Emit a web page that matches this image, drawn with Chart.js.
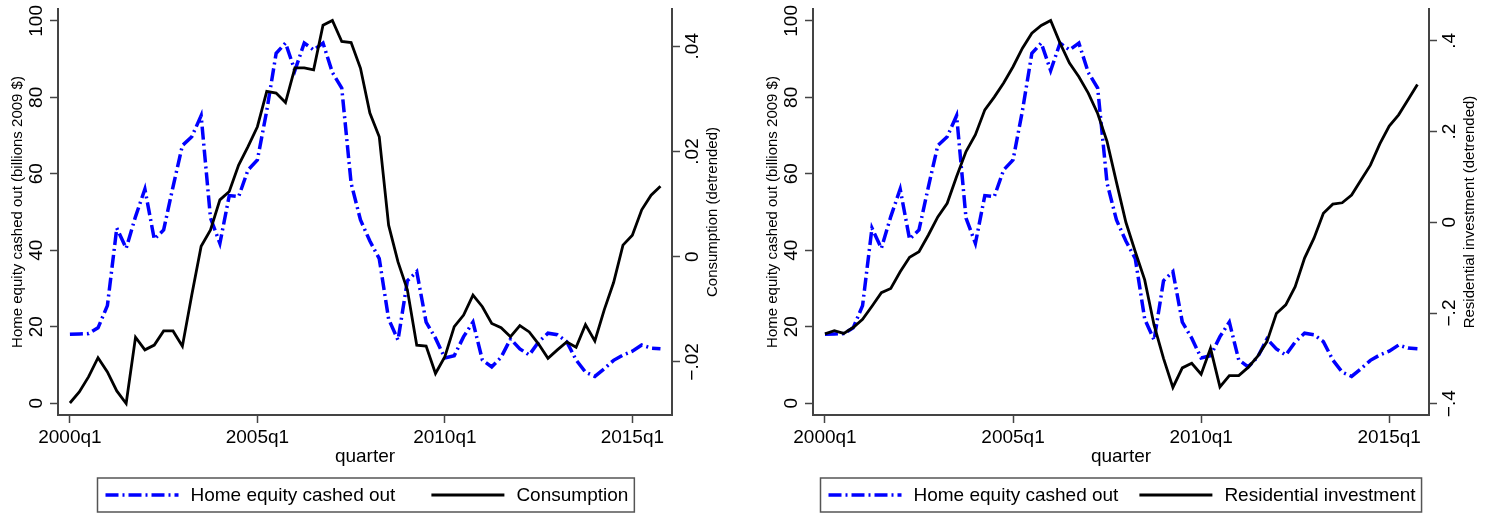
<!DOCTYPE html>
<html><head><meta charset="utf-8">
<script src="https://cdn.jsdelivr.net/npm/chart.js@4.4.1/dist/chart.umd.min.js"></script>
<style>
html,body{margin:0;padding:0;background:#fff;}
#wrap{position:relative;width:1489px;height:514px;overflow:hidden;background:#fff;}
.panel{position:absolute;top:0;height:514px;}
</style></head>
<body><div id="wrap">
<div class="panel" style="left:0;width:745px"><canvas id="c1" width="745" height="514"></canvas></div>
<div class="panel" style="left:745px;width:744px"><canvas id="c2" width="744" height="514"></canvas></div>
</div>
<script>
// ---------- data ----------
const quarters = [];
for (let y = 2000; y <= 2015; y++) for (let q = 1; q <= 4; q++) quarters.push(y + 'q' + q);
const xTickLabels = ['2000q1', '2005q1', '2010q1', '2015q1'];

const equityCashedOut = [
  18.0, 18.1, 18.2, 19.7, 25.5, 45.8, 40.5, 48.8, 56.0, 42.9, 45.3, 56.6,
  67.4, 69.7, 75.2, 48.4, 41.8, 54.3, 54.0, 61.0, 63.6, 76.5, 91.5, 94.2,
  87.0, 94.2, 92.4, 94.2, 86.5, 82.4, 57.5, 47.9, 42.4, 37.8, 22.0, 16.5,
  32.0, 34.4, 21.2, 17.0, 11.8, 12.4, 17.4, 21.2, 11.3, 9.5, 12.0, 16.8,
  14.2, 12.6, 16.0, 18.3, 17.9, 16.1, 11.3, 8.1, 7.0, 9.0, 11.2, 12.6,
  13.6, 15.2, 14.4, 14.2
];
const consumption = [
  -0.0278, -0.0257, -0.0228, -0.0192, -0.0219, -0.0255, -0.0279, -0.0153,
  -0.0177, -0.0168, -0.0141, -0.0141, -0.0170, -0.0073, 0.0020, 0.0051,
  0.0108, 0.0124, 0.0174, 0.0209, 0.0247, 0.0314, 0.0311, 0.0293,
  0.0359, 0.0359, 0.0355, 0.0440, 0.0449, 0.0409, 0.0407, 0.0358,
  0.0273, 0.0228, 0.0060, -0.0010, -0.0063, -0.0168, -0.0170, -0.0222,
  -0.0190, -0.0133, -0.0111, -0.0073, -0.0095, -0.0127, -0.0135, -0.0152,
  -0.0131, -0.0143, -0.0166, -0.0193, -0.0177, -0.0162, -0.0172, -0.0129,
  -0.0160, -0.0101, -0.0049, 0.0022, 0.0041, 0.0089, 0.0117, 0.0134
];
const residentialInvestment = [
  -0.246, -0.239, -0.245, -0.232, -0.214, -0.185, -0.155, -0.146,
  -0.109, -0.077, -0.065, -0.028, 0.012, 0.042, 0.101, 0.156,
  0.193, 0.248, 0.276, 0.307, 0.343, 0.384, 0.417, 0.434,
  0.445, 0.395, 0.351, 0.321, 0.285, 0.240, 0.178, 0.088,
  0.000, -0.065, -0.127, -0.227, -0.300, -0.364, -0.321, -0.311,
  -0.335, -0.278, -0.363, -0.338, -0.338, -0.320, -0.296, -0.263,
  -0.201, -0.182, -0.142, -0.079, -0.035, 0.020, 0.040, 0.043,
  0.060, 0.093, 0.126, 0.173, 0.212, 0.237, 0.270, 0.304
];

const equityTicks = [0, 20, 40, 60, 80, 100];
const equityTickLabels = ['0', '20', '40', '60', '80', '100'];
const consumptionTicks = [-0.02, 0, 0.02, 0.04];
const consumptionTickLabels = ['\u2212.02', '0', '.02', '.04'];
const residentialTicks = [-0.4, -0.2, 0, 0.2, 0.4];
const residentialTickLabels = ['\u2212.4', '\u2212.2', '0', '.2', '.4'];

const equityTitle = 'Home equity cashed out (billions 2009 $)';
const consumptionTitle = 'Consumption (detrended)';
const residentialTitle = 'Residential investment (detrended)';

// ---------- drawing helpers ----------
const FONT = "'Liberation Sans', Arial, Helvetica, sans-serif";
const AXIS = '#444';

function pts(arr) { return arr.map((v, i) => ({ x: i, y: v })); }

function yDecorPlugin(axes) {
  return {
    id: 'yDecor',
    afterDraw(chart) {
      const ctx = chart.ctx;
      const midY = (chart.chartArea.top + chart.chartArea.bottom) / 2;
      Object.keys(axes).forEach(id => {
        const s = chart.scales[id];
        const c = axes[id];
        const isLeft = s.position === 'left';
        const axisX = isLeft ? s.right : s.left;
        const sign = isLeft ? -1 : 1;
        ctx.save();
        ctx.fillStyle = '#000';
        ctx.textAlign = 'center';
        ctx.textBaseline = 'alphabetic';
        ctx.font = '19px ' + FONT;
        c.ticks.forEach((v, i) => {
          const y = s.getPixelForValue(v);
          ctx.save();
          ctx.translate(axisX + sign * c.tickOff, y);
          ctx.rotate(-Math.PI / 2);
          ctx.fillText(c.labels[i], 0, 0);
          ctx.restore();
        });
        ctx.font = '15px ' + FONT;
        ctx.translate(axisX + sign * c.titleOff, midY);
        ctx.rotate(-Math.PI / 2);
        ctx.fillText(c.title, 0, 0);
        ctx.restore();
      });
    }
  };
}

function legendPlugin(cfg) {
  return {
    id: 'boxLegend',
    afterDraw(chart) {
      const ctx = chart.ctx;
      const ds = chart.data.datasets;
      ctx.save();
      ctx.font = '19px ' + FONT;
      const widths = ds.map(d => ctx.measureText(d.label).width);
      const total = cfg.padL + ds.length * (cfg.line + cfg.gap) +
        widths.reduce((a, b) => a + b, 0) + cfg.colGap * (ds.length - 1) + cfg.padR;
      const cx = (chart.chartArea.left + chart.chartArea.right) / 2;
      const x0 = Math.round(cx - total / 2) + 0.5;
      ctx.strokeStyle = '#555';
      ctx.lineWidth = 1.5;
      ctx.strokeRect(x0, cfg.top, total, cfg.height);
      let x = x0 + cfg.padL;
      const y = cfg.top + cfg.height / 2;
      ds.forEach((d, i) => {
        ctx.beginPath();
        ctx.setLineDash(d.borderDash || []);
        ctx.strokeStyle = d.borderColor;
        ctx.lineWidth = d.borderWidth;
        ctx.moveTo(x, y);
        ctx.lineTo(x + cfg.line, y);
        ctx.stroke();
        ctx.setLineDash([]);
        x += cfg.line + cfg.gap;
        ctx.fillStyle = '#000';
        ctx.textBaseline = 'middle';
        ctx.textAlign = 'left';
        ctx.fillText(d.label, x, y + 1);
        x += widths[i] + cfg.colGap;
      });
      ctx.restore();
    }
  };
}

function makeChart(canvasId, rightSeries, rightLabel, rightTicks, rightTickLabels, rightTitle,
                   rightMin, rightMax, leftW, rightW, colGap) {
  const xScale = {
    type: 'linear', position: 'bottom', min: -1.27, max: 64.23,
    afterBuildTicks: s => { s.ticks = xTickLabels.map(l => ({ value: quarters.indexOf(l) })); },
    ticks: {
      callback: v => quarters[v], font: { size: 19, family: FONT }, color: '#000',
      maxRotation: 0, minRotation: 0, autoSkip: false, padding: 3
    },
    grid: { drawOnChartArea: false, drawTicks: true, tickLength: 8, tickColor: AXIS, tickWidth: 1.5 },
    border: { display: true, color: AXIS, width: 2 },
    title: { display: true, text: 'quarter', font: { size: 19, family: FONT }, color: '#000', padding: { top: 0, bottom: 2 } },
    afterFit: s => { s.height = 55; }
  };
  const yLeft = {
    type: 'linear', position: 'left', min: -3.1, max: 103.1,
    afterBuildTicks: s => { s.ticks = equityTicks.map(v => ({ value: v })); },
    ticks: { display: false },
    grid: { drawOnChartArea: false, drawTicks: true, tickLength: 8, tickColor: AXIS, tickWidth: 1.5 },
    border: { display: true, color: AXIS, width: 2 },
    afterFit: s => { s.width = leftW; }
  };
  const yRight = {
    type: 'linear', position: 'right', min: rightMin, max: rightMax,
    afterBuildTicks: s => { s.ticks = rightTicks.map(v => ({ value: v })); },
    ticks: { display: false },
    grid: { drawOnChartArea: false, drawTicks: true, tickLength: 8, tickColor: AXIS, tickWidth: 1.5 },
    border: { display: true, color: AXIS, width: 2 },
    afterFit: s => { s.width = rightW; }
  };
  return new Chart(document.getElementById(canvasId), {
    type: 'line',
    data: {
      datasets: [
        {
          label: 'Home equity cashed out', data: pts(equityCashedOut), yAxisID: 'y',
          borderColor: '#0000ff', borderWidth: 3.5, borderDash: [13, 4, 2, 4],
          pointRadius: 0, tension: 0, fill: false, order: 2
        },
        {
          label: rightLabel, data: pts(rightSeries), yAxisID: 'y2',
          borderColor: '#000000', borderWidth: 2.8,
          pointRadius: 0, tension: 0, fill: false, order: 1
        }
      ]
    },
    options: {
      responsive: false, animation: false, devicePixelRatio: 1,
      layout: { padding: { top: 9, bottom: 44, left: 0, right: 0 } },
      plugins: { legend: { display: false }, tooltip: { enabled: false } },
      scales: { x: xScale, y: yLeft, y2: yRight }
    },
    plugins: [
      yDecorPlugin({
        y: { ticks: equityTicks, labels: equityTickLabels, title: equityTitle, tickOff: 16, titleOff: 36 },
        y2: { ticks: rightTicks, labels: rightTickLabels, title: rightTitle, tickOff: 26, titleOff: 45 }
      }),
      legendPlugin({ top: 478, height: 34, padL: 8, padR: 6, line: 73, gap: 12, colGap: colGap })
    ]
  });
}

makeChart('c1', consumption, 'Consumption', consumptionTicks, consumptionTickLabels, consumptionTitle,
  -0.03008, 0.04707, 58, 73, 36);
makeChart('c2', residentialInvestment, 'Residential investment', residentialTicks, residentialTickLabels, residentialTitle,
  -0.4249, 0.4703, 68, 60, 21);
</script>
</body></html>
